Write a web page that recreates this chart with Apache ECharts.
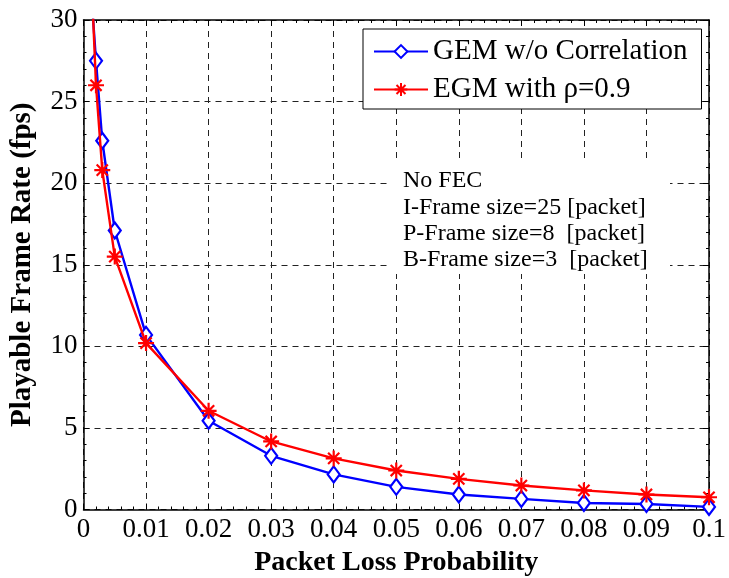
<!DOCTYPE html>
<html>
<head>
<meta charset="utf-8">
<script src="https://cdn.jsdelivr.net/npm/echarts@6/dist/echarts.min.js"></script>
<style>
  html, body { margin: 0; padding: 0; background: #fff; }
  #chart { width: 729px; height: 578px; }
</style>
</head>
<body>
<div id="chart"></div>
<script>
// packet loss probability (x)
const lossProb = [0.001, 0.002, 0.003, 0.005, 0.01, 0.02, 0.03, 0.04, 0.05, 0.06, 0.07, 0.08, 0.09, 0.1];
// playable frame rate (fps)
const gemNoCorr = [33, 27.5, 22.6, 17.1, 10.7, 5.44, 3.29, 2.15, 1.39, 0.92, 0.65, 0.40, 0.34, 0.16];
const egmRho09 = [35, 26.0, 20.8, 15.5, 10.2, 6.05, 4.17, 3.13, 2.39, 1.88, 1.47, 1.17, 0.92, 0.75];
const seriesNames = ['GEM w/o Correlation', 'EGM with \u03c1=0.9'];
const noteLines = ['No FEC', 'I-Frame size=25 [packet]', 'P-Frame size=8  [packet]', 'B-Frame size=3  [packet]'];

const FONT = '"Liberation Serif", "Times New Roman", serif';
const starPath = 'path://M0,5L10,5M5,0L5,10M1.5,1.5L8.5,8.5M8.5,1.5L1.5,8.5';

const pairs = (xs, ys) => xs.map((x, i) => [x, ys[i]]);

const chart = echarts.init(document.getElementById('chart'));

const gridLine = { show: true, lineStyle: { color: '#222', width: 1, type: [6, 5] } };
const baseAxis = {
  axisLine: { show: true, onZero: false, lineStyle: { color: '#000', width: 1.5 } },
  axisTick: { show: true, inside: true, length: 6, lineStyle: { color: '#000', width: 1 } },
  minorTick: { show: true, splitNumber: 5, length: 3, lineStyle: { color: '#000', width: 1 } },
  axisLabel: { color: '#000', fontFamily: FONT, fontSize: 27 }
};

let option = {
  animation: false,
  backgroundColor: '#fff',
  grid: { left: 83.5, right: 20, top: 20, bottom: 68.5, outerBoundsMode: 'none', containLabel: false },
  legend: {
    orient: 'vertical',
    left: 363,
    top: 29,
    backgroundColor: '#fff',
    borderColor: '#000',
    borderWidth: 1,
    padding: [8, 14, 5, 10],
    itemWidth: 54,
    itemHeight: 16,
    itemGap: 9,
    textStyle: { fontFamily: FONT, fontSize: 29, color: '#000' },
    data: seriesNames
  },
  xAxis: [
    Object.assign({}, baseAxis, {
      type: 'value', min: 0, max: 0.1, interval: 0.01, position: 'bottom',
      axisLabel: Object.assign({}, baseAxis.axisLabel, {
        margin: 7,
        formatter: v => String(+v.toFixed(2))
      }),
      splitLine: gridLine,
      name: 'Packet Loss Probability',
      nameLocation: 'middle',
      nameGap: 38,
      nameTextStyle: { fontFamily: FONT, fontSize: 28, fontWeight: 'bold', color: '#000' }
    }),
    Object.assign({}, baseAxis, {
      type: 'value', min: 0, max: 0.1, interval: 0.01, position: 'top',
      axisLabel: { show: false }, splitLine: { show: false }
    })
  ],
  yAxis: [
    Object.assign({}, baseAxis, {
      type: 'value', min: 0, max: 30, interval: 5, position: 'left',
      axisLabel: Object.assign({}, baseAxis.axisLabel, { margin: 6 }),
      splitLine: gridLine,
      name: 'Playable Frame Rate (fps)',
      nameLocation: 'middle',
      nameGap: 46,
      nameTextStyle: { fontFamily: FONT, fontSize: 29, fontWeight: 'bold', color: '#000' }
    }),
    Object.assign({}, baseAxis, {
      type: 'value', min: 0, max: 30, interval: 5, position: 'right',
      axisLabel: { show: false }, splitLine: { show: false }
    })
  ],
  series: [
    {
      name: seriesNames[0],
      type: 'line',
      data: pairs(lossProb, gemNoCorr),
      clip: true,
      symbol: 'diamond',
      symbolSize: [12, 16],
      lineStyle: { color: '#0000ff', width: 2.4 },
      itemStyle: { color: '#fff', borderColor: '#0000ff', borderWidth: 2.2 },
      emphasis: { disabled: true },
      z: 3
    },
    {
      name: seriesNames[1],
      type: 'line',
      data: pairs(lossProb, egmRho09),
      clip: true,
      symbol: starPath,
      symbolSize: 16,
      lineStyle: { color: '#ff0000', width: 2.4 },
      itemStyle: { color: 'rgba(0,0,0,0)', borderColor: '#ff0000', borderWidth: 2.2 },
      emphasis: { disabled: true },
      z: 4
    }
  ],
  graphic: [
    {
      type: 'rect',
      shape: { x: 390, y: 160, width: 280, height: 114 },
      style: { fill: '#fff' },
      z: 1
    }
  ].concat(noteLines.map((t, i) => ({
    type: 'text',
    left: 403,
    top: 169 + i * 26.3,
    z: 2,
    style: { text: t, fontFamily: FONT, fontSize: 24, fill: '#000' }
  })))
};

option && chart.setOption(option);
</script>
</body>
</html>
